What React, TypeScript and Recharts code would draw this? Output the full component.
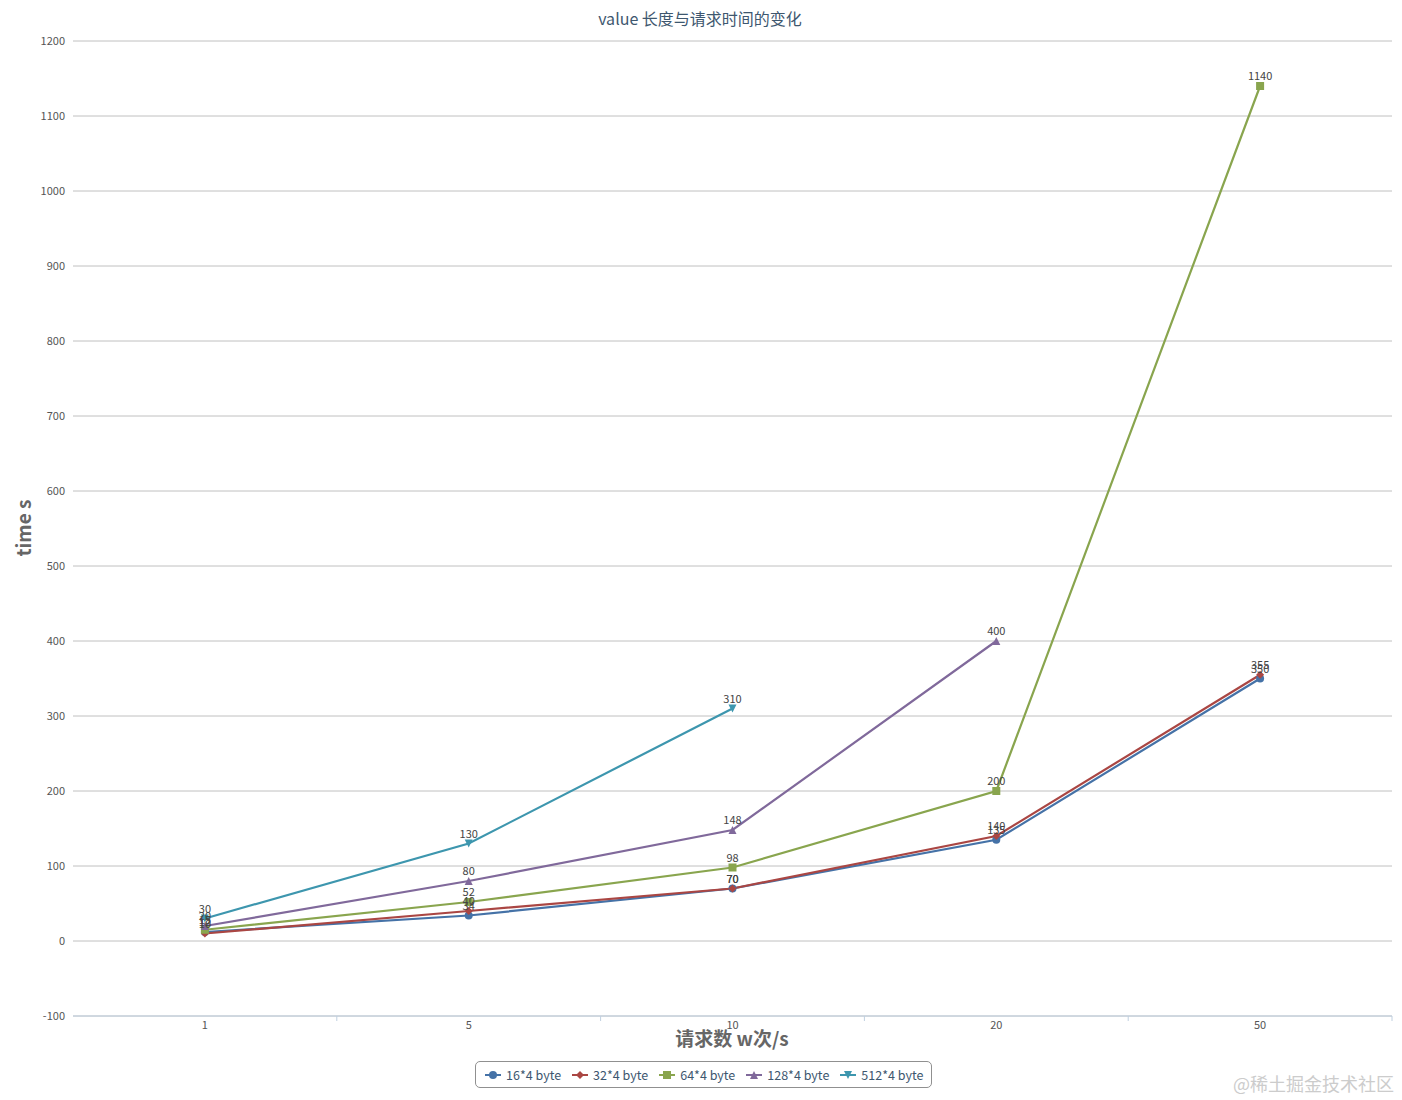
import React from "react";
import { LineChart, Line, XAxis, YAxis, CartesianGrid, LabelList, Legend } from "recharts";

const categories = ["1", "5", "10", "20", "50"];
const s16 = [12, 34, 70, 135, 350];
const s32 = [10, 40, 70, 140, 355];
const s64 = [15, 52, 98, 200, 1140];
const s128 = [20, 80, 148, 400, null];
const s512 = [30, 130, 310, null, null];
const yTicks = [-100, 0, 100, 200, 300, 400, 500, 600, 700, 800, 900, 1000, 1100, 1200];

const seriesNames = ["16*4 byte", "32*4 byte", "64*4 byte", "128*4 byte", "512*4 byte"];
const seriesColors = ["#4572A7", "#AA4643", "#89A54E", "#80699B", "#3D96AE"];
const seriesShapes = ["circle", "diamond", "square", "triangle", "triangle-down"];
const seriesValues = [s16, s32, s64, s128, s512];
const seriesKeys = ["s16", "s32", "s64", "s128", "s512"];

const data = categories.map((c, i) => {
  const row: any = { cat: c };
  seriesKeys.forEach((k, j) => {
    row[k] = seriesValues[j][i];
  });
  return row;
});

const W = 1394;
const H = 1092;
const M = { top: 33, right: 10, left: 0, bottom: 64 };
const YW = 65;
const PLOT_W = W - M.left - M.right - YW;
const BAND = PLOT_W / categories.length;

const FONT = "'Noto Sans CJK SC', 'Liberation Sans', sans-serif";

function Marker({ shape, cx, cy, color }: any) {
  if (cx == null || cy == null || isNaN(cx) || isNaN(cy)) return null;
  const s = 4;
  if (shape === "circle") return <circle cx={cx} cy={cy} r={4} fill={color} />;
  if (shape === "square") return <rect x={cx - s} y={cy - s} width={2 * s} height={2 * s} fill={color} />;
  if (shape === "diamond")
    return <path d={`M${cx},${cy - s} L${cx + s},${cy} L${cx},${cy + s} L${cx - s},${cy} Z`} fill={color} />;
  if (shape === "triangle")
    return <path d={`M${cx},${cy - s} L${cx + s},${cy + s} L${cx - s},${cy + s} Z`} fill={color} />;
  return <path d={`M${cx - s},${cy - s} L${cx + s},${cy - s} L${cx},${cy + s} Z`} fill={color} />;
}

function XTick(props: any) {
  const { x, y, payload } = props;
  return (
    <g>
      <line x1={x + BAND / 2} y1={y - 8} x2={x + BAND / 2} y2={y - 3} stroke="#C0D0E0" />
      <text x={x} y={y + 5} textAnchor="middle" fontSize={11} fill="#555" fontFamily={FONT}>
        {payload.value}
      </text>
    </g>
  );
}

function YTick(props: any) {
  const { x, y, payload } = props;
  return (
    <text x={x} y={y + 4} textAnchor="end" fontSize={11} fill="#555" fontFamily={FONT}>
      {payload.value}
    </text>
  );
}

function makeLabel() {
  return (props: any) => {
    const { x, y, value } = props;
    if (value == null) return null;
    return (
      <text x={x} y={y - 6} textAnchor="middle" fontSize={11} fill="#444" fontFamily={FONT}>
        {value}
      </text>
    );
  };
}

function LegendContent() {
  return (
    <div
      style={{
        display: "flex",
        alignItems: "center",
        border: "1px solid #909090",
        borderRadius: 5,
        padding: "3px 8px",
        background: "#fff",
        fontFamily: FONT,
        fontSize: 12.5,
        color: "#3E576F",
        whiteSpace: "nowrap",
      }}
    >
      {seriesNames.map((n, i) => (
        <div key={n} style={{ display: "flex", alignItems: "center", marginRight: i < seriesNames.length - 1 ? 10 : 0 }}>
          <svg width={18} height={12} style={{ marginRight: 4 }}>
            <line x1={1} y1={6} x2={17} y2={6} stroke={seriesColors[i]} strokeWidth={2} />
            <Marker shape={seriesShapes[i]} cx={9} cy={6} color={seriesColors[i]} />
          </svg>
          <span>{n}</span>
        </div>
      ))}
    </div>
  );
}

export default function App() {
  return (
    <div style={{ position: "relative", width: W, height: H }}>
      <LineChart width={W} height={H} data={data} margin={M}>
        <text x={692} y={17} textAnchor="middle" fontSize={16} fill="#3E576F" fontFamily={FONT}>
          value 长度与请求时间的变化
        </text>
        <text
          x={14}
          y={520}
          transform="rotate(-90 14 520)"
          textAnchor="middle"
          fontSize={19}
          fontWeight="bold"
          fill="#666"
          fontFamily={FONT}
          dominantBaseline="central"
        >
          time s
        </text>
        <text x={724} y={1038} textAnchor="middle" fontSize={19} fontWeight="bold" fill="#666" fontFamily={FONT}>
          请求数 w次/s
        </text>
        <text x={1386} y={1083} textAnchor="end" fontSize={18} fill="#ccc" fontFamily={FONT}>
          @稀土掘金技术社区
        </text>
        <CartesianGrid vertical={false} stroke="#C0C0C0" />
        <XAxis
          dataKey="cat"
          scale="band"
          height={20}
          stroke="#C0D0E0"
          tickLine={false}
          tick={<XTick />}
          interval={0}
        />
        <YAxis
          width={YW}
          domain={[-100, 1200]}
          ticks={yTicks}
          interval={0}
          axisLine={false}
          tickLine={false}
          tick={<YTick />}
        />
        <Legend
          verticalAlign="middle"
          layout="horizontal"
          content={<LegendContent />}
          wrapperStyle={{ top: 1053, left: 467, width: "auto", height: "auto" }}
        />
        {seriesKeys.map((k, i) => (
          <Line
            key={k}
            dataKey={k}
            name={seriesNames[i]}
            stroke={seriesColors[i]}
            strokeWidth={2.2}
            isAnimationActive={false}
            connectNulls={false}
            dot={(p: any) => <Marker key={`${k}-${p.index}`} shape={seriesShapes[i]} cx={p.cx} cy={p.cy} color={seriesColors[i]} />}
            activeDot={false}
          >
            <LabelList dataKey={k} content={makeLabel()} />
          </Line>
        ))}
      </LineChart>
    </div>
  );
}
